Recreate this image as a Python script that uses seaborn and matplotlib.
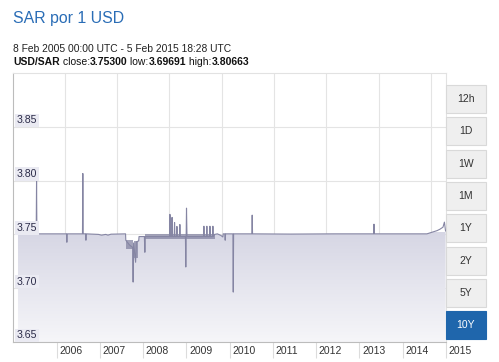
import pandas as pd
import numpy as np
import matplotlib
matplotlib.use('Agg')
import matplotlib.pyplot as plt
import matplotlib.dates as mdates
import matplotlib.transforms as mtransforms
from matplotlib.patches import Rectangle
from matplotlib.colors import LinearSegmentedColormap
import seaborn as sns

## ---------------------------------------------------------------------------
## DATA
## ---------------------------------------------------------------------------
dates = ['2005-02-08', '2005-07-12', '2005-07-15', '2005-07-18',
         '2006-03-25', '2006-03-28', '2006-03-31',
         '2006-08-07', '2006-08-10', '2006-08-13',
         '2006-09-02', '2006-09-05', '2006-09-08',
         '2006-12-20', '2007-01-15', '2007-02-20', '2007-03-10', '2007-04-05',
         '2007-08-06', '2007-08-08', '2007-09-10', '2007-10-05', '2007-10-09',
         '2007-10-13', '2007-10-30', '2007-11-05', '2007-11-25', '2007-11-28',
         '2008-01-12', '2008-01-16', '2008-01-20',
         '2008-08-12', '2008-08-15', '2008-08-18',
         '2008-08-30', '2008-09-02', '2008-09-05',
         '2008-09-20', '2008-09-23', '2008-09-26',
         '2008-10-10', '2008-10-13', '2008-10-16',
         '2008-11-04', '2008-11-07', '2008-11-10',
         '2008-12-24', '2008-12-27', '2009-01-02', '2009-01-06',
         '2009-05-26', '2009-05-29', '2009-06-01',
         '2009-06-20', '2009-06-23', '2009-06-26',
         '2009-07-16', '2009-07-19', '2009-07-22',
         '2009-08-10', '2009-08-13', '2009-08-16',
         '2009-08-28', '2009-09-20', '2009-10-20', '2009-11-05', '2009-11-08',
         '2009-11-22', '2009-11-25', '2009-11-28',
         '2010-01-29', '2010-02-01', '2010-02-04',
         '2010-07-08', '2010-07-11', '2010-07-14',
         '2011-06-01', '2012-06-01',
         '2013-05-02', '2013-05-05', '2013-05-08',
         '2014-07-26', '2014-10-20', '2014-11-13', '2014-12-09', '2014-12-21',
         '2014-12-31']
rate = [3.7505, 3.7505, 3.7996, 3.7505,
        3.7505, 3.7427, 3.7505,
        3.7505, 3.8066, 3.7505,
        3.7505, 3.7446, 3.7505,
        3.7500, 3.7493, 3.7500, 3.7493, 3.7502,
        3.7505, 3.7446, 3.7400, 3.7380, 3.7057,
        3.7420, 3.7241, 3.7430, 3.7440, 3.7480,
        3.7480, 3.7334, 3.7480,
        3.7480, 3.7686, 3.7480,
        3.7480, 3.7658, 3.7480,
        3.7480, 3.7611, 3.7480,
        3.7480, 3.7574, 3.7480,
        3.7480, 3.7592, 3.7480,
        3.7480, 3.7197, 3.7744, 3.7480,
        3.7480, 3.7576, 3.7480,
        3.7480, 3.7576, 3.7480,
        3.7480, 3.7576, 3.7480,
        3.7480, 3.7576, 3.7480,
        3.7500, 3.7505, 3.7490, 3.7476, 3.7505,
        3.7505, 3.7446, 3.7505,
        3.7505, 3.6964, 3.7505,
        3.7505, 3.7679, 3.7505,
        3.7503, 3.7505,
        3.7505, 3.7595, 3.7505,
        3.7505, 3.7535, 3.7548, 3.7567, 3.7614,
        3.7530]

# periods of dense intraday swings (drawn as solid bands)
band_start = ['2007-08-08', '2007-10-16', '2008-01-20']
band_end = ['2007-10-05', '2007-11-22', '2009-08-29']
band_low = [3.7360, 3.7280, 3.7458]
band_high = [3.7446, 3.7440, 3.7505]

year_ticks = list(range(2006, 2016))
y_ticks = [3.65, 3.70, 3.75, 3.80, 3.85]
grid_dates = ['2006-03-12', '2007-05-28', '2008-08-11', '2009-10-27',
              '2011-01-12', '2012-03-29', '2013-06-15', '2014-08-29']
buttons = ['12h', '1D', '1W', '1M', '1Y', '2Y', '5Y', '10Y']
active_button = '10Y'

title = 'SAR por 1 USD'
subtitle = '8 Feb 2005 00:00 UTC - 5 Feb 2015 18:28 UTC'
stats = [('USD/SAR', 'bold'), (' close:', 'normal'), ('3.75300', 'bold'),
         (' low:', 'normal'), ('3.69691', 'bold'), (' high:', 'normal'),
         ('3.80663', 'bold')]

## ---------------------------------------------------------------------------
## STYLE
## ---------------------------------------------------------------------------
sns.set_theme(style='white')
plt.rcParams['font.family'] = ['Liberation Sans', 'DejaVu Sans']

LINE = '#8585a3'
GRID = '#e4e4e4'
W, H = 499, 362
DPI = 100

df = pd.DataFrame({'date': pd.to_datetime(dates), 'rate': rate})

## ---------------------------------------------------------------------------
## FIGURE
## ---------------------------------------------------------------------------
fig = plt.figure(figsize=(W / DPI, H / DPI), dpi=DPI, facecolor='white')
ax = fig.add_axes([13 / W, 1 - 342 / H, (445.7 - 13) / W, (342 - 73) / H])

xlim = (pd.Timestamp('2004-12-28'), pd.Timestamp('2015-01-01'))
ylim = (3.65, 3.90)

# gradient area below the line
poly = ax.fill_between(df['date'], df['rate'], ylim[0], color='none', lw=0)
cmap = LinearSegmentedColormap.from_list('fill', ['#f6f6f9', '#d6d6e4'])
grad = np.linspace(0, 1, 256).reshape(-1, 1)
x0, x1 = mdates.date2num(xlim[0]), mdates.date2num(xlim[1])
im = ax.imshow(grad, extent=[x0, x1, ylim[0], 3.752], origin='lower',
               aspect='auto', cmap=cmap, zorder=1)
im.set_clip_path(poly.get_paths()[0], transform=ax.transData)

for s, e, lo, hi in zip(band_start, band_end, band_low, band_high):
    ax.fill_between(pd.to_datetime([s, e]), [lo, lo], [hi, hi],
                    color=LINE, alpha=0.75, lw=0, zorder=2)

sns.lineplot(data=df, x='date', y='rate', color=LINE, lw=0.8, ax=ax,
             zorder=3, estimator=None)

for v in y_ticks:
    ax.axhline(v, color=GRID, lw=0.8, zorder=0.5)
for d in grid_dates:
    ax.axvline(pd.Timestamp(d), color=GRID, lw=0.8, zorder=0.5)

ax.set_xlim(xlim)
ax.set_ylim(ylim)
ax.set_xlabel('')
ax.set_ylabel('')
ax.set_yticks([])
ax.set_xticks([pd.Timestamp(f'{y}-01-01') for y in year_ticks])
ax.set_xticklabels([])
ax.tick_params(axis='x', length=11.5, width=0.8, color='#dcdcdc',
               direction='out', bottom=True)

for side in ['top', 'right']:
    ax.spines[side].set_color('#e2e2e2')
for side in ['left', 'bottom']:
    ax.spines[side].set_color('#bcbcbc')
for sp in ax.spines.values():
    sp.set_linewidth(0.8)

# y labels inside the plot, sitting just above their grid line
ytrans = mtransforms.blended_transform_factory(ax.transAxes, ax.transData)
yoff = mtransforms.ScaledTranslation(0, 3.5 / DPI, fig.dpi_scale_trans)
for v in y_ticks:
    ax.text(0.009, v, f'{v:.2f}', transform=ytrans + yoff, ha='left',
            va='baseline', fontsize=7.6, color='#2b2b48', zorder=5,
            bbox=dict(facecolor='#eaeaf2', edgecolor='none', pad=1.3))

# x labels to the right of their tick marks
xtrans = mtransforms.blended_transform_factory(ax.transData, ax.transAxes)
xoff = mtransforms.ScaledTranslation(2.8 / DPI, -12.5 / DPI, fig.dpi_scale_trans)
for y in year_ticks:
    ax.text(pd.Timestamp(f'{y}-01-01'), 0, str(y), transform=xtrans + xoff,
            ha='left', va='baseline', fontsize=7.5, color='#333333',
            clip_on=False)

# header
fig.text(13 / W, 1 - 23 / H, title, fontsize=11.4, color='#2a6db6',
         va='baseline')
fig.text(13 / W, 1 - 52.3 / H, subtitle, fontsize=7.4, color='#222222',
         va='baseline')
renderer = fig.canvas.get_renderer()
xpos = 13 / W
for txt, wt in stats:
    t = fig.text(xpos, 1 - 65 / H, txt, fontsize=7.5, fontweight=wt,
                 color='#111111', va='baseline')
    bb = t.get_window_extent(renderer)
    xpos = bb.x1 / W

# range buttons
for i, b in enumerate(buttons):
    top = 85 + i * 32.3
    active = b == active_button
    fig.add_artist(Rectangle((446 / W, 1 - (top + 28) / H), 40 / W, 28 / H,
                             transform=fig.transFigure,
                             facecolor='#1f66ac' if active else '#efefef',
                             edgecolor='#1f66ac' if active else '#d9d9d9',
                             lw=0.8))
    fig.text(466 / W, 1 - (top + 14) / H, b, ha='center', va='center',
             fontsize=7.5, color='white' if active else '#333333')

plt.savefig('out.png', dpi=DPI, facecolor='white')
